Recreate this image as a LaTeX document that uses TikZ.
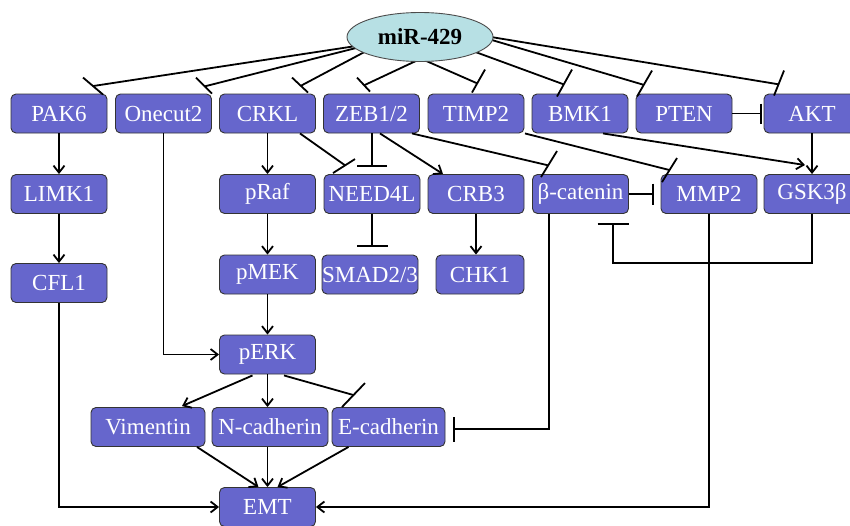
\documentclass[tikz,border=0pt]{standalone}
\usepackage{fontspec}
\setmainfont{Liberation Serif}
\usetikzlibrary{arrows.meta,calc,backgrounds,shapes.geometric}
\definecolor{boxblue}{RGB}{102,102,204}
\definecolor{mircyan}{RGB}{183,224,228}
\tikzset{
  box/.style={rectangle, rounded corners=5pt, draw=black!80, line width=0.9pt, fill=boxblue, text=white, font=\fontsize{23}{25}\selectfont, minimum width=96pt, minimum height=39pt, inner sep=0pt},
  mirnode/.style={ellipse, draw=black!70, line width=0.9pt, fill=mircyan, minimum width=146pt, minimum height=49pt, inner sep=0pt, font=\bfseries\fontsize{23}{25}\selectfont},
  conn/.style={line width=1.8pt, draw=black},
  arr/.style={conn, -{Straight Barb[length=7pt,width=11pt]}},
  inh/.style={conn, -{Bar[width=#1]}},
}
\begin{document}
\begin{tikzpicture}[x=1pt,y=-1pt]
\useasboundingbox (0,0) rectangle (850,525);
\clip (0,0) rectangle (850,525);

% nodes
\node[mirnode] (mir) at (420,37) {miR-429};
\node[box] (pak6) at (59,113.5) {PAK6};
\node[box] (onecut) at (163.5,113.5) {Onecut2};
\node[box] (crkl) at (267.5,113.5) {CRKL};
\node[box] (zeb) at (371.5,113.5) {ZEB1/2};
\node[box] (timp) at (476,113.5) {TIMP2};
\node[box] (bmk) at (580,113.5) {BMK1};
\node[box] (pten) at (684,113.5) {PTEN};
\node[box] (akt) at (812,113.5) {AKT};

\node[box] (limk) at (59,194) {LIMK1};
\node[box] (praf) at (267.5,194) {pRaf};
\node[box] (need) at (372,194) {NEED4L};
\node[box] (crb) at (476,194) {CRB3};
\node[box] (bcat) at (580.5,194) {β-catenin};
\node[box] (mmp) at (709,194) {MMP2};
\node[box] (gsk) at (812,194) {GSK3β};

\node[box] (cfl) at (59,283) {CFL1};
\node[box] (pmek) at (267.5,274.5) {pMEK};
\node[box] (smad) at (370,274.5) {SMAD2/3};
\node[box, minimum width=88pt] (chk) at (480,274.5) {CHK1};

\node[box] (perk) at (267.5,354.5) {pERK};
\node[box, minimum width=114pt] (vim) at (148,427) {Vimentin};
\node[box, minimum width=116pt] (ncad) at (270,427) {N-cadherin};
\node[box, minimum width=113pt] (ecad) at (388.5,427) {E-cadherin};
\node[box] (emt) at (267.5,507) {EMT};

% bar coordinates for miR-429 inhibitions
\coordinate (pa) at ($(pak6.north)+(24,-16)$);   \coordinate (pb) at ($(pak6.north)+(44,1)$);
\coordinate (oa) at ($(onecut.north)+(32.5,-16)$); \coordinate (ob) at ($(onecut.north)+(48.5,0)$);
\coordinate (ca) at ($(crkl.north)+(24.5,-16)$); \coordinate (cb) at ($(crkl.north)+(40.5,-1)$);
\coordinate (za) at ($(zeb.north)+(-14.5,-16)$); \coordinate (zb) at ($(zeb.north)+(-1.5,-2)$);
\coordinate (ta) at ($(timp.north)+(9,-24)$);    \coordinate (tb) at ($(timp.north)+(-4,-1)$);
\coordinate (ba) at ($(bmk.north)+(-8,-24)$);    \coordinate (bb) at ($(bmk.north)+(-23,3)$);
\coordinate (ea) at ($(pten.north)+(-32,-23)$);  \coordinate (eb) at ($(pten.north)+(-47,3)$);
\coordinate (aa) at ($(akt.north)+(-28,-23)$);   \coordinate (ab) at ($(akt.north)+(-38,2)$);

\begin{pgfonlayer}{background}
\draw[conn] ($(mir.center)+(-64,9)$) -- ($(pa)!.5!(pb)$);
\draw[conn] ($(mir.center)+(-58,9.5)$) -- ($(oa)!.55!(ob)$);
\draw[conn] ($(mir.center)+(-48,11)$) -- ($(ca)!.55!(cb)$);
\draw[conn] ($(mir.center)+(-2,23)$) -- ($(za)!.55!(zb)$);
\draw[conn] ($(mir.center)+(4,23)$) -- ($(ta)!.6!(tb)$);
\draw[conn] ($(mir.center)+(50,13)$) -- ($(ba)!.55!(bb)$);
\draw[conn] ($(mir.center)+(65,1)$) -- ($(ea)!.55!(eb)$);
\draw[conn] ($(mir.center)+(65,-1)$) -- ($(aa)!.55!(ab)$);
\end{pgfonlayer}
\draw[conn] (pa) -- (pb);
\draw[conn] (oa) -- (ob);
\draw[conn] (ca) -- (cb);
\draw[conn] (za) -- (zb);
\draw[conn] (ta) -- (tb);
\draw[conn] (ba) -- (bb);
\draw[conn] (ea) -- (eb);
\draw[conn] (aa) -- (ab);

% activating arrows
\draw[arr] (pak6) -- (limk);
\draw[arr] (limk) -- (cfl);
\draw[arr] (cfl.south) |- (emt.west);
\draw[arr] (onecut.south) |- (perk.west);
\draw[arr] (crkl) -- (praf);
\draw[arr] (praf) -- (pmek);
\draw[arr] (pmek) -- (perk);
\draw[arr] (perk.south) -- (perk.south |- ncad.north);
\draw[arr] ($(perk.south)+(-15,1)$) -- ($(vim.north)+(34,-1)$);
\draw[arr] ($(vim.south)+(49,0)$) -- ($(emt.north)+(-9,0)$);
\draw[arr] (emt.north |- ncad.south) -- (emt.north);
\draw[arr] ($(ecad.south)+(-40,0)$) -- ($(emt.north)+(10,0)$);
\draw[arr] (mmp.south) |- (emt.east);
\draw[arr] ($(zeb.south)+(8.5,0)$) -- ($(crb.north)+(-33,0)$);
\draw[arr] ($(bmk.south)+(23,0)$) -- ($(gsk.north)+(-7,-9)$);
\draw[arr] (akt) -- (gsk);
\draw[arr] (crb) -- (crb.south |- chk.north);

% inhibitions with perpendicular bars
\draw[inh=30pt, shorten >=7pt] (zeb.south -| need.north) -- (need.north);
\draw[inh=31pt, shorten >=8pt] (need.south) -- (need.south |- smad.north);
\draw[inh=21pt, shorten >=7pt] (bcat.east) -- (mmp.west);
\draw[inh=20pt, shorten >=2pt] (pten.east) -- (akt.west);
\draw[inh=31pt] (gsk.south) -- ++(0,49) -| ($(bcat.south)+(32.5,9)$);
\draw[inh=25pt] ($(bcat.south)+(-31.5,0)$) |- ($(ecad.east)+(8,2)$);

% inhibitions with slanted bars
\coordinate (na) at ($(need.north)+(-39,-1)$);   \coordinate (nb) at ($(need.north)+(-17,-15)$);
\draw[conn] (na) -- (nb);
\draw[conn] ($(crkl.south)+(32.5,0)$) -- ($(na)!.55!(nb)$);
\coordinate (ka) at ($(bcat.north)+(-23.5,-23)$); \coordinate (kb) at ($(bcat.north)+(-39.5,3)$);
\draw[conn] (ka) -- (kb);
\draw[conn] ($(zeb.south)+(40.5,0)$) -- ($(ka)!.55!(kb)$);
\coordinate (ma) at ($(mmp.north)+(-32,-16)$);   \coordinate (mb) at ($(mmp.north)+(-47,8)$);
\draw[conn] (ma) -- (mb);
\draw[conn] ($(timp.south)+(49,0)$) -- ($(ma)!.5!(mb)$);
\coordinate (xa) at ($(ecad.north)+(-23.5,-24)$); \coordinate (xb) at ($(ecad.north)+(-46.5,0)$);
\draw[conn] (xa) -- (xb);
\draw[conn] ($(perk.south)+(16.5,1)$) -- ($(xa)!.5!(xb)$);
\end{tikzpicture}
\end{document}
